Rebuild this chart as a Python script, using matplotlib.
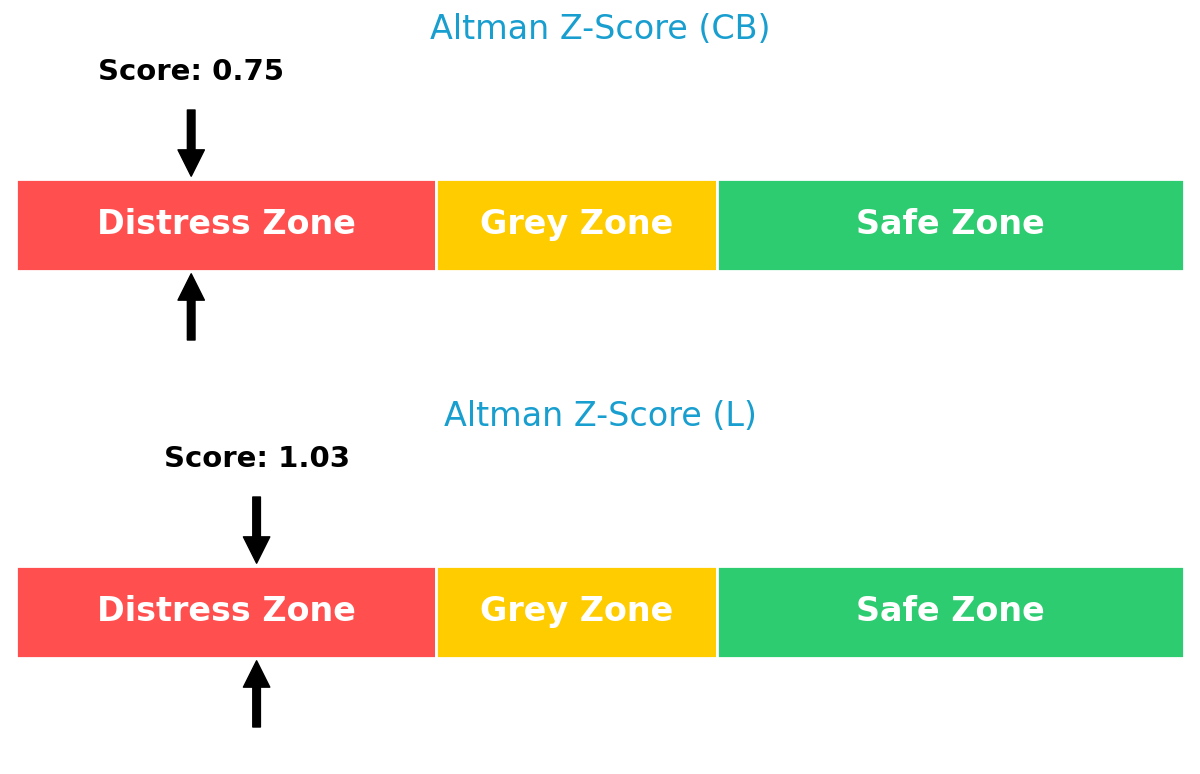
import matplotlib
matplotlib.use("Agg")
import matplotlib.pyplot as plt

# zone boundaries (Altman Z-score)
zone_names = ["Distress Zone", "Grey Zone", "Safe Zone"]
zone_starts = [0.0, 1.8, 3.0]
zone_widths = [1.8, 1.2, 2.0]
zone_colors = ["#FF4F4F", "#FFCC00", "#2ECC71"]

companies = ["CB", "L"]
scores = [0.75, 1.03]

title_color = "#189ECF"


def draw_gauge(ax, name, score):
    ax.barh(0.5, zone_widths, left=zone_starts, height=1.0,
            color=zone_colors, edgecolor="white", linewidth=2)
    for start, width, label in zip(zone_starts, zone_widths, zone_names):
        ax.text(start + width / 2, 0.5, label, ha="center", va="center",
                color="white", fontsize=24, fontweight="bold")

    arrow = dict(facecolor="black", edgecolor="black", width=5.5,
                 headwidth=19, headlength=19, shrink=0)
    ax.annotate("", xy=(score, 1.03), xytext=(score, 1.75), arrowprops=arrow)
    ax.annotate("", xy=(score, -0.03), xytext=(score, -0.75), arrowprops=arrow)

    ax.text(score, 2.16, "Score: %.2f" % score, ha="center", va="center",
            fontsize=21, fontweight="bold", color="black")
    ax.text(2.5, 2.62, "Altman Z-Score (%s)" % name, ha="center", va="center",
            fontsize=24, color=title_color)

    ax.set_xlim(0, 5)
    ax.set_ylim(-1, 2.8)
    ax.axis("off")


fig = plt.figure(figsize=(12, 7.74), dpi=100)
ax_top = fig.add_axes([0.01333, 0.531, 0.97333, 0.4517])
ax_bot = fig.add_axes([0.01333, 0.031, 0.97333, 0.4517])

for ax, name, score in zip([ax_top, ax_bot], companies, scores):
    draw_gauge(ax, name, score)

fig.savefig("out.png", dpi=100)
